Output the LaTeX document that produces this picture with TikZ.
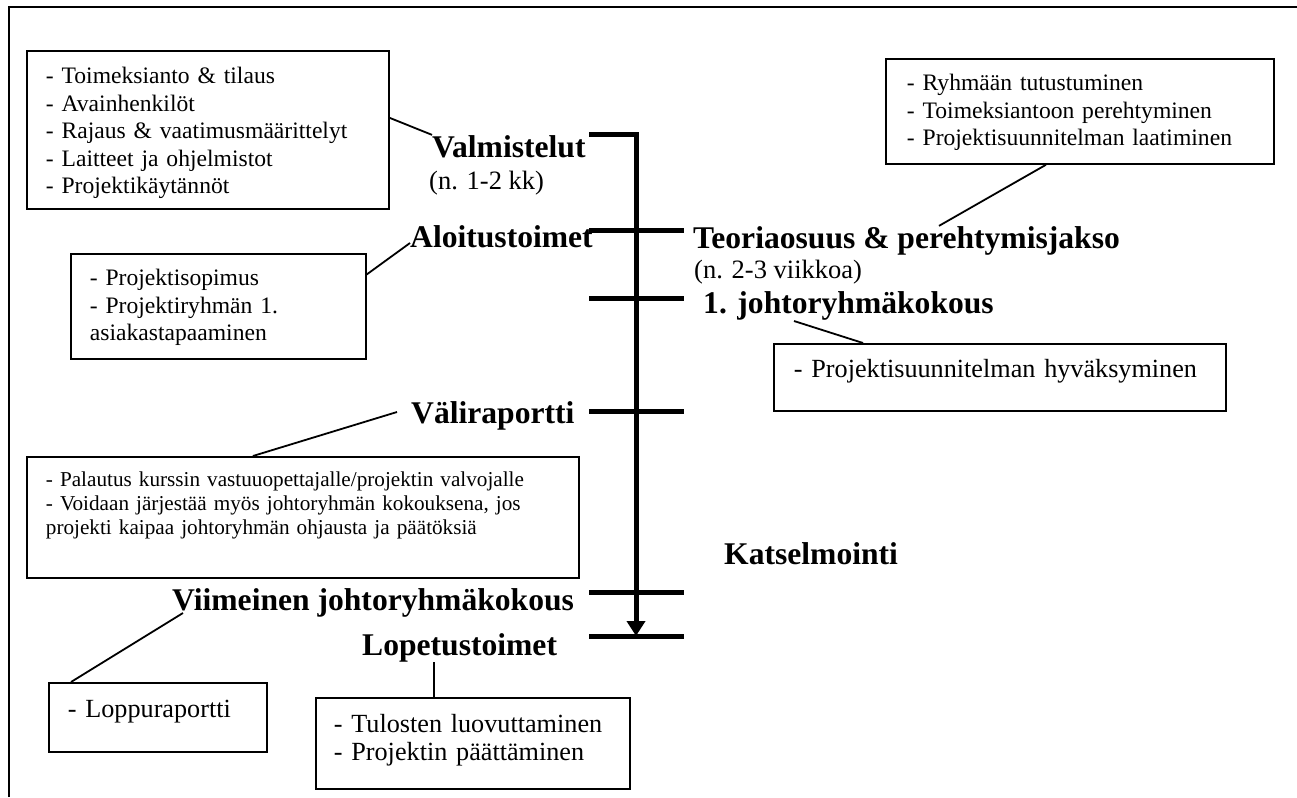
\documentclass[tikz,border=0pt]{standalone}
\usepackage{fontspec}
\setmainfont{Liberation Serif}
\usetikzlibrary{arrows.meta}

\begin{document}
\begin{tikzpicture}[x=1pt,y=-1pt]
        \tikzstyle{box}=[draw, line width=1.8pt, anchor=north west, inner ysep=0pt, align=left, font=\fontsize{23.6}{27.5}\selectfont]
        \tikzstyle{bigbox}=[box, font=\fontsize{26.2}{28}\selectfont]
        \tikzstyle{title}=[anchor=base west, inner sep=0pt, font=\fontsize{31.6}{36}\selectfont\bfseries]
        \tikzstyle{sub}=[anchor=base west, inner sep=0pt, font=\fontsize{26.5}{30}\selectfont]
        \tikzstyle{conn}=[line width=1.8pt]
        \tikzstyle{bar}=[line width=5pt]
        \useasboundingbox (0,0) rectangle (1297,797);
        \draw[line width=1.8pt] (9,797) -- (9,7) -- (1297,7);
        % aikajana
        \coordinate (tTop) at (589,134);
        \coordinate (tEnd) at (636,636);
        \draw[bar, -{Triangle[length=15pt,width=18pt]}] (tTop) -| (tEnd);
        \foreach \y in {230,298,411,592,636} \draw[bar] (589,\y) -- (684,\y);
        % vaiheet
        \node[title] (valm) at (432,157) {Valmistelut};
        \node[sub] (valmAika) at (429,189) {(n. 1-2 kk)};
        \node[title] (aloi) at (410,247) {Aloitustoimet};
        \node[title] (teo) at (693,248) {Teoriaosuus \& perehtymisjakso};
        \node[sub] (teoAika) at (694,278) {(n. 2-3 viikkoa)};
        \node[title] (joht) at (703,313) {1. johtoryhmäkokous};
        \node[title] (vali) at (411,423) {Väliraportti};
        \node[title] (kats) at (724,564) {Katselmointi};
        \node[title] (viim) at (172,610) {Viimeinen johtoryhmäkokous};
        \node[title] (lope) at (362,655) {Lopetustoimet};
        % laatikot
        \node[box, inner xsep=19pt, text width=324pt, text height=32.7pt, text depth=125.3pt] (boxValm) at (26,50)
            {- Toimeksianto \& tilaus\\- Avainhenkilöt\\- Rajaus \& vaatimusmäärittelyt\\- Laitteet ja ohjelmistot\\- Projektikäytännöt};
        \node[box, inner xsep=19pt, text width=257pt, text height=32pt, text depth=73pt] (boxAloi) at (70,253)
            {- Projektisopimus\\- Projektiryhmän 1.\\asiakastapaaminen};
        \node[box, inner xsep=21pt, text width=346pt, text height=32pt, text depth=73pt] (boxTeo) at (885,58)
            {- Ryhmään tutustuminen\\- Toimeksiantoon perehtyminen\\- Projektisuunnitelman laatiminen};
        \node[bigbox, inner xsep=20pt, text width=412pt, text height=34pt, text depth=33pt] (boxJoht) at (773,343)
            {- Projektisuunnitelman hyväksyminen};
        \node[box, inner xsep=19pt, text width=514pt, text height=30pt, text depth=91pt, font=\fontsize{21.2}{24}\selectfont] (boxVali) at (26,456)
            {- Palautus kurssin vastuuopettajalle/projektin valvojalle\\- Voidaan järjestää myös johtoryhmän kokouksena, jos\\projekti kaipaa johtoryhmän ohjausta ja päätöksiä};
        \node[bigbox, inner xsep=19pt, text width=180pt, text height=35pt, text depth=34pt] (boxViim) at (48,682)
            {- Loppuraportti};
        \node[bigbox, inner xsep=18pt, text width=278pt, text height=35pt, text depth=56pt] (boxLope) at (315,697)
            {- Tulosten luovuttaminen\\- Projektin päättäminen};
        % yhdysviivat
        \draw[conn] ([yshift=12pt]boxValm.east) -- (valm.north west);
        \draw[conn] ([yshift=32pt]boxAloi.east) -- ([yshift=4pt]aloi.base west);
        \draw[conn] ([xshift=-34pt]boxTeo.south) -- ([xshift=246pt]teo.north west);
        \draw[conn] ([shift={(91pt,-8pt)}]joht.base west) -- ([xshift=90pt]boxJoht.north west);
        \draw[conn] ([shift={(-14pt,11pt)}]vali.base west) -- ([xshift=-50pt]boxVali.north);
        \draw[conn] ([shift={(11pt,-3pt)}]viim.base west) -- ([xshift=23pt]boxViim.north west);
        \draw[conn] ([xshift=-39pt]boxLope.north) -- ([xshift=-39pt]boxLope.north |- lope.south);
\end{tikzpicture}
\end{document}
